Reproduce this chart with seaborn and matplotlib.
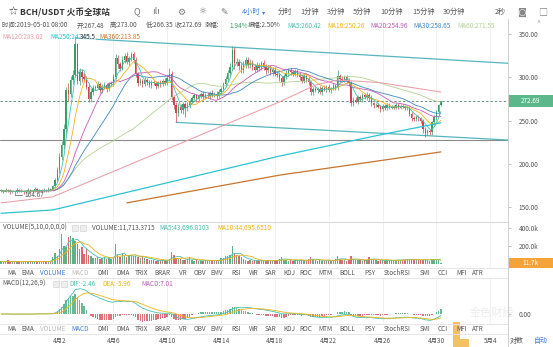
import numpy as np
import pandas as pd
import matplotlib
matplotlib.use("Agg")
import matplotlib.pyplot as plt
import matplotlib.transforms as mtrans
from matplotlib.patches import Rectangle, Polygon
from matplotlib.lines import Line2D
import seaborn as sns

sns.set_theme(style="white")
plt.rcParams["font.family"] = ["Noto Sans CJK SC", "DejaVu Sans"]
plt.rcParams["axes.unicode_minus"] = False

# ---------------- BCH/USDT 4h candles (from 2019-03-28 16:00) ----------------
close = [
    169, 168, 170, 169, 167, 168, 167, 170, 169, 168, 167, 169, 170, 168, 169, 171, 170, 168, 169, 170, 169, 171, 170,
    174, 181, 193, 208, 222, 240, 285, 281, 297, 303, 338,
    296, 306, 300, 298, 289, 275, 283, 288,
    288, 292, 285, 289, 291, 286, 292,
    293, 300, 322, 315, 310, 320, 325, 318, 322, 327,
    320, 304, 293,
    296, 292, 297, 294, 291, 295, 293, 290, 294, 292, 296, 293, 299, 304,
    277, 268, 259, 266, 262, 269, 264, 268, 272,
    276, 279, 275, 278, 281, 277, 280, 278, 282, 279, 281, 278, 283,
    286, 292, 298, 305, 312, 331, 316,
    318, 313, 308, 315, 320, 314, 317, 312, 309, 314, 311, 316, 312, 308, 311, 306, 309, 304,
    303, 299, 294, 301, 305, 308, 306, 304, 307, 303, 300, 296, 302, 298, 294,
    283, 286,
    285, 287, 283, 288, 286, 289, 285, 287, 290, 288,
    301, 298, 297, 300, 296, 293,
    270, 274, 272, 277, 275, 279, 277, 280,
    276, 270, 267.5,
    268, 266, 263, 267, 264, 268, 265, 266, 265, 268.3,
    265, 267, 266, 264, 265, 258, 253, 252, 254, 252.6,
    250, 240, 236, 238, 236.5,
    248, 254, 259.93, 267.48, 272.69,
]
upper_wick = [
    1.5, 1, 2, 1, 1.5, 1, 1, 2, 1, 1.5, 1, 1, 2, 1, 1, 2, 1, 1, 1.5, 2, 1, 2, 1.5,
    2, 3, 4, 5, 5, 6, 4, 8, 5, 6, 7.5,
    2, 5, 4, 5, 3, 4, 5, 3,
    3, 4, 3, 3, 4, 2, 3,
    3, 4, 5, 4, 3, 5, 3, 4, 3, 2,
    2, 3, 2,
    3, 2, 3, 2, 3, 2, 2, 3, 2, 3, 2, 3, 4, 7,
    3, 3, 3, 4, 3, 3, 3, 3, 3,
    2, 3, 2, 3, 2, 3, 2, 3, 2, 3, 2, 3, 3,
    3, 3, 4, 4, 4, 5, 4,
    4, 3, 3, 4, 3, 3, 4, 3, 3, 4, 3, 3, 4, 3, 3, 3, 3, 3,
    3, 3, 3, 3, 4, 3, 3, 3, 3, 3, 3, 3, 3, 3, 3,
    2, 3,
    3, 2, 3, 2, 3, 2, 3, 2, 3, 2,
    8, 3, 3, 3, 3, 3,
    3, 3, 3, 3, 3, 3, 3, 3,
    2, 3, 2,
    2, 2, 2, 2, 2, 2, 2, 2, 2, 2,
    2, 2, 2, 2, 2, 2, 2, 2, 2, 2,
    2, 2, 3, 2, 2,
    2, 2, 2, 2, 0.31,
]
lower_wick = [
    1.5, 2, 1, 1.5, 2, 1, 2.33, 1, 1.5, 1, 2, 1, 1, 1.5, 1, 1, 2, 1, 1, 1.5, 1, 1, 1.5,
    1, 1, 2, 3, 4, 5, 6, 8, 4, 5, 3,
    4, 5, 6, 4, 3, 4, 3, 4,
    3, 2, 3, 3, 2, 3, 2,
    2, 3, 2, 4, 3, 2, 4, 3, 4, 3,
    3, 4, 3,
    2, 3, 2, 3, 2, 3, 2, 3, 2, 3, 2, 2, 2, 3,
    3, 5, 11, 4, 3, 4, 10, 3, 3,
    2, 2, 3, 2, 2, 3, 2, 2, 3, 2, 2, 3, 2,
    2, 2, 3, 3, 3, 4, 6,
    3, 4, 3, 3, 4, 3, 3, 4, 3, 3, 4, 3, 3, 4, 3, 3, 4, 3,
    3, 3, 4, 3, 3, 3, 3, 3, 3, 3, 3, 3, 3, 3, 3,
    4, 3,
    2, 3, 2, 3, 2, 3, 2, 3, 2, 3,
    3, 3, 3, 3, 3, 3,
    3, 3, 2, 3, 2, 3, 2, 3,
    3, 3, 3,
    2, 2, 3, 2, 2, 2, 2, 2, 2, 2,
    2, 2, 2, 2, 2, 3, 3, 3, 2, 3,
    3, 4, 5, 3, 3,
    3, 3, 3, 3, 1.13,
]
# volume in thousands
volume_k = [
    28, 22, 30, 44, 25, 20, 26, 31, 24, 22, 27, 33, 25, 21, 28, 24, 30, 26, 22, 29, 35, 31, 38,
    79, 122, 90, 170, 331, 205, 187, 295, 313, 288, 259,
    223, 170, 187, 115, 170, 97, 85, 70,
    62, 75, 55, 68, 80, 60, 72,
    58, 70, 223, 97, 80, 108, 90, 75, 95, 100,
    85, 92, 78,
    65, 88, 70, 55, 45, 40, 50, 35, 42, 30, 48, 38, 45, 60,
    133, 95, 70, 55, 60, 50, 45, 52, 79,
    40, 35, 42, 30, 38, 33, 45, 36, 40, 32, 38, 44, 50,
    62, 70, 90, 85, 95, 198, 115,
    97, 85, 79, 60, 45, 38, 50, 32, 40, 35, 28, 42, 36, 30, 45, 38, 33, 40,
    48, 55, 79, 50, 45, 38, 42, 35, 40, 48, 36, 44, 40, 38, 52,
    79, 55,
    40, 35, 42, 30, 38, 33, 45, 36, 40, 55,
    86, 60, 45, 40, 38, 42,
    86, 55, 45, 40, 42, 38, 45, 40,
    80, 60, 50,
    42, 38, 45, 40, 36, 42, 38, 44, 40, 46,
    48, 42, 50, 45, 52, 58, 53, 47, 44, 42,
    42, 48, 55, 45, 38.472458,
    55, 52, 60, 39.77068, 11.7133715,
]

# long moving averages (candle index, value)
ma120_idx = [0, 23, 124, 140, 150, 169, 196]
ma120_val = [155, 162, 271.5, 291, 297, 293.8, 283.02]
ma250_idx = [0, 23, 124, 168, 196]
ma250_val = [143, 146.8, 209, 233, 247.45]
ma360_idx = [56, 124, 196]
ma360_val = [155, 187, 213.85]

# drawn objects: channel lines and a horizontal support line
channel_upper_x = [33, 225.9]
channel_upper_y = [345.4, 316.2]
channel_lower_x = [78, 225.9]
channel_lower_y = [248, 227.6]
support_level = 227.6

# 24h statistics shown in the info row
change_pct = "1.94%"
amplitude_pct = "2.50%"

tick_dates = ["2019-04-02", "2019-04-06", "2019-04-10", "2019-04-14", "2019-04-18",
              "2019-04-22", "2019-04-26", "2019-04-30", "2019-05-04"]
tick_labels = ["4月2", "4月6", "4月10", "4月14", "4月18", "4月22", "4月26", "4月30", "5月4"]
price_ticks = [150, 200, 250, 300, 350]
volume_ticks = [200, 400]

tabs = ["MA", "EMA", "VOLUME", "MACD", "DMI", "DMA", "TRIX", "BRAR", "VR", "OBV", "EMV", "RSI",
        "WR", "SAR", "KDJ", "ROC", "MTM", "BOLL", "PSY", "StochRSI", "SMI", "CCI", "MFI", "ATR"]
tab_x = [12, 27.5, 53, 80, 103, 123, 141, 162, 183, 200, 217, 236, 254, 271, 289, 306, 325,
         347, 370, 397, 425, 443, 462, 478]
periods = ["分时", "1分钟", "3分钟", "5分钟", "10分钟", "15分钟", "30分钟"]
period_x = [278, 300, 327, 353, 380, 412, 443]

# ---------------- derived series ----------------
W, H = 553, 347
UP, DOWN = "#3a9e6a", "#d0424d"
C5, C10, C20, C30, C60 = "#45bfae", "#f0b316", "#c35bb0", "#3f88c0", "#b2d392"
C120, C250, C360 = "#eb9ea8", "#2cc3d3", "#c8742c"
GREY = "#555555"
FS = 4.6

n = len(close)
idx = np.arange(n)
t0 = pd.Timestamp("2019-03-28 16:00")
c = np.array(close, dtype=float)
o = np.concatenate([[c[0]], c[:-1]])
hi = np.maximum(o, c) + np.array(upper_wick)
lo = np.minimum(o, c) - np.array(lower_wick)
up = c >= o
cols = np.where(up, UP, DOWN)

s = pd.Series(c)
ma = {k: s.rolling(k, min_periods=1).mean().to_numpy() for k in (5, 10, 20, 30, 60)}
v = pd.Series(volume_k, dtype=float)
vma5 = v.rolling(5, min_periods=1).mean().to_numpy()
vma10 = v.rolling(10, min_periods=1).mean().to_numpy()
dif = (s.ewm(span=12, adjust=False).mean() - s.ewm(span=26, adjust=False).mean()).to_numpy()
dea = pd.Series(dif).ewm(span=9, adjust=False).mean().to_numpy()
hist = 2 * (dif - dea)

tick_pos = ((pd.to_datetime(tick_dates) - t0) / pd.Timedelta("4h")).to_numpy()
XMIN, XMAX = -0.5, 225.9

# ---------------- figure layout ----------------
fig = plt.figure(figsize=(W / 100, H / 100), dpi=100)
fig.patch.set_facecolor("white")


def rect(x0, y0, x1, y1):
    return [x0 / W, 1 - y1 / H, (x1 - x0) / W, (y1 - y0) / H]


def ftext(x, y, txt, **kw):
    kw.setdefault("fontsize", FS)
    kw.setdefault("color", GREY)
    kw.setdefault("va", "center")
    kw.setdefault("ha", "left")
    fig.text(x / W, 1 - y / H, txt, **kw)


def hline(y, x0=0, x1=W, color="#dddddd", lw=0.6):
    fig.add_artist(Line2D([x0 / W, x1 / W], [1 - y / H, 1 - y / H], transform=fig.transFigure,
                          color=color, lw=lw))


ax_p = fig.add_axes(rect(0, 20, 508, 221))
ax_v = fig.add_axes(rect(0, 222, 508, 267))
ax_m = fig.add_axes(rect(0, 278, 508, 323))

for ax in (ax_p, ax_v, ax_m):
    ax.set_xlim(XMIN, XMAX)
    ax.set_xticks([])
    for sp in ax.spines.values():
        sp.set_visible(False)
    ax.set_facecolor("white")
    ax.yaxis.tick_right()
    ax.tick_params(axis="y", which="both", right=True, left=False, length=2.5, width=0.5,
                   color="#aaaaaa", labelsize=FS, labelcolor=GREY, pad=5)
    for tp in tick_pos:
        ax.axvline(tp, color="#eeeeee", lw=0.6, zorder=0)

# ---------------- price panel ----------------
ax_p.set_ylim(134.07, 366.17)
ax_p.set_yticks(price_ticks)
ax_p.set_yticklabels([f"{t:.2f}" for t in price_ticks])

ax_p.axhline(support_level, color="#8c8c8c", lw=0.8, zorder=1)
ax_p.axhline(c[-1], color="#6d8f88", lw=0.7, ls=(0, (2.5, 2)), zorder=1)
ax_p.plot(channel_upper_x, channel_upper_y, color="#55b6bf", lw=0.9, zorder=1)
ax_p.plot(channel_lower_x, channel_lower_y, color="#55b6bf", lw=0.9, zorder=1)

ax_p.vlines(idx, lo, hi, colors=cols, lw=0.5, zorder=2)
ax_p.bar(idx, np.maximum(np.abs(c - o), 0.5), bottom=np.minimum(o, c), width=0.62,
         color=cols, linewidth=0, zorder=3)

for k, col in ((60, C60), (30, C30), (20, C20), (10, C10), (5, C5)):
    sns.lineplot(x=idx, y=ma[k], ax=ax_p, color=col, linewidth=0.6, zorder=4)
sns.lineplot(x=ma120_idx, y=ma120_val, ax=ax_p, color=C120, linewidth=0.75, zorder=4)
sns.lineplot(x=ma250_idx, y=ma250_val, ax=ax_p, color=C250, linewidth=0.9, zorder=4)
sns.lineplot(x=ma360_idx, y=ma360_val, ax=ax_p, color=C360, linewidth=0.9, zorder=4)
ax_p.set_xlabel("")
ax_p.set_ylabel("")
ax_p.set_xlim(XMIN, XMAX)

# extreme markers
i_lo = int(np.argmin(lo))
i_hi = int(np.argmax(hi))
ax_p.plot([i_lo, i_lo + 3.5], [lo[i_lo]] * 2, color=GREY, lw=0.5, zorder=5)
ax_p.text(i_lo + 4.2, lo[i_lo], f"{lo[i_lo]:.2f}", fontsize=FS, color=GREY, va="center", zorder=5)

# last price box
bt = mtrans.blended_transform_factory(ax_p.transAxes, ax_p.transData)
ax_p.add_patch(Rectangle((1.0, c[-1] - 6.9), 45 / 508, 13.9, transform=bt, clip_on=False,
                         facecolor="#5cb88a", edgecolor="none", zorder=6))
ax_p.text(1.0 + 22.5 / 508, c[-1], f"{c[-1]:.2f}", transform=bt, fontsize=FS, color="white",
          ha="center", va="center", zorder=7)

# ---------------- volume panel ----------------
ax_v.set_ylim(-33.3, 466.7)
ax_v.set_yticks(volume_ticks)
ax_v.set_yticklabels([f"{t:.1f}k" for t in volume_ticks])
ax_v.bar(idx, volume_k, width=0.62, color=cols, alpha=0.8, linewidth=0, zorder=2)
sns.lineplot(x=idx, y=vma5, ax=ax_v, color=C5, linewidth=0.6, zorder=3)
sns.lineplot(x=idx, y=vma10, ax=ax_v, color=C10, linewidth=0.6, zorder=3)
ax_v.set_xlabel("")
ax_v.set_ylabel("")
ax_v.set_xlim(XMIN, XMAX)
bv = mtrans.blended_transform_factory(ax_v.transAxes, ax_v.transData)
ax_v.add_patch(Rectangle((1.0, volume_k[-1] - 55.5), 45 / 508, 111, transform=bv, clip_on=False,
                         facecolor="#f5a43a", edgecolor="none", zorder=6))
ax_v.text(1.0 + 22.5 / 508, volume_k[-1], f"{volume_k[-1]:.1f}k", transform=bv, fontsize=FS,
          color="white", ha="center", va="center", zorder=7)

# ---------------- MACD panel ----------------
M = float(np.max(dif))
R = M / 0.56
ax_m.set_ylim(-0.2 * R, 0.8 * R)
ax_m.set_yticks([0])
ax_m.set_yticklabels(["0.00"])
ax_m.bar(idx, hist, width=0.62, color=np.where(hist >= 0, "#4fae7f", "#d65a66"), alpha=0.85,
         linewidth=0, zorder=2)
sns.lineplot(x=idx, y=dif, ax=ax_m, color=C5, linewidth=0.6, zorder=3)
sns.lineplot(x=idx, y=dea, ax=ax_m, color=C10, linewidth=0.6, zorder=3)
ax_m.set_xlabel("")
ax_m.set_ylabel("")
ax_m.set_xlim(XMIN, XMAX)

# ---------------- frame lines ----------------
hline(221.8, 0, 508, "#cfcfcf")
hline(267.5, 0, 508, "#e2e2e2")
hline(278.2, 0, 508, "#e2e2e2")
hline(323.5, 0, 508, "#e2e2e2")
hline(334.2, 0, 508, "#e2e2e2")
fig.add_artist(Line2D([508 / W, 508 / W], [0, 1 - 19 / H], transform=fig.transFigure,
                      color="#d0d0d0", lw=0.7))

# ---------------- header ----------------
ftext(9, 12, "☆", fontsize=6.5, color="#444")
ftext(20, 12, "BCH/USDT 火币全球站", fontsize=6.2, color="#333", fontweight="bold")
for xx, g in ((133, "Q"), (152, "ılı"), (177, "⚙"), (198, "☼"), (220, "✎")):
    ftext(xx, 12, g, fontsize=6.5, color="#777")
ftext(242, 12, "4小时", fontsize=5.2, color="#3b7ddd")
ftext(262, 12, "▾", fontsize=4.5, color="#3b7ddd")
for xx, p in zip(period_x, periods):
    ftext(xx, 12, p, fontsize=5.2, color=GREY)
ftext(495, 12, "2秒", fontsize=5.2, color=GREY)
ftext(517, 12, "◙", fontsize=6.5, color="#888")
ftext(538, 12, "□", fontsize=6.5, color="#888")
ftext(537, 23, "^", fontsize=5, color="#999")

row2 = [
    (2, "时间:2019-05-01 08:00", GREY),
    (77, f"开:{o[-1]:.2f}", GREY),
    (110, f"高:{hi[-1]:.2f}", GREY),
    (146, f"低:{lo[-1]:.2f}", GREY),
    (175, f"收:{c[-1]:.2f}", GREY),
    (205, "涨幅:", GREY),
    (229, change_pct, UP),
    (248, f"振幅:{amplitude_pct}", GREY),
    (287, f"MA5:{ma[5][-1]:.2f}", C5),
    (327, f"MA10:{ma[10][-1]:.2f}", C10),
    (370, f"MA20:{ma[20][-1]:.2f}", C20),
    (413, f"MA30:{ma[30][-1]:.2f}", C30),
    (457, f"MA60:{ma[60][-1]:.2f}", C60),
]
for xx, txt, col in row2:
    ftext(xx, 25.5, txt, color=col)
ftext(2, 37, f"MA120:{ma120_val[-1]:.2f}", color=C120)
ftext(50, 37, f"MA250:{ma250_val[-1]:.2f}", color=C250)
ftext(99, 37, f"MA360:{ma360_val[-1]:.2f}", color=C360)
# highest price marker sits on the MA row
ftext(80, 37, f"{hi[i_hi]:.1f}", color="#333", zorder=10,
      bbox=dict(boxstyle="square,pad=0.05", fc="white", ec="none", alpha=0.6))


def small_boxes(x, y):
    for dx in (0, 8):
        fig.add_artist(Rectangle(((x + dx) / W, 1 - (y + 3) / H), 6 / W, 6 / H,
                                 transform=fig.transFigure, facecolor="#eeeeee",
                                 edgecolor="#cccccc", lw=0.4))


ftext(3, 228, "VOLUME(5,10,0,0,0,0)")
small_boxes(72, 228)
ftext(92, 228, f"VOLUME:{volume_k[-1] * 1000:,.4f}")
ftext(159, 228, f"MA5:{vma5[-1] * 1000:,.4f}", color=C5)
ftext(217, 228, f"MA10:{vma10[-1] * 1000:,.4f}", color=C10)

ftext(2, 284, "MACD(12,26,9)")
small_boxes(53, 284)
ftext(69, 284, f"DIF:{dif[-1]:.2f}", color=C5)
ftext(102, 284, f"DEA:{dea[-1]:.2f}", color=C10)
ftext(141, 284, f"MACD:{hist[-1]:.2f}", color="#c05ab8")

for xx, name in zip(tab_x, tabs):
    c1 = "#3b7ddd" if name == "VOLUME" else ("#bbbbbb" if name == "MACD" else GREY)
    c2 = "#3b7ddd" if name == "MACD" else ("#bbbbbb" if name == "VOLUME" else GREY)
    ftext(xx, 273, name, ha="center", color=c1)
    ftext(xx, 328.8, name, ha="center", color=c2)

bx = mtrans.blended_transform_factory(ax_m.transData, fig.transFigure)
for tp, lab in zip(tick_pos, tick_labels):
    ax_m.text(tp, 1 - 341 / H, lab, transform=bx, fontsize=FS, color=GREY, ha="center",
              va="center", clip_on=False)
ftext(517, 341, "对数", ha="center", fontsize=5)
ftext(541, 341, "自动", ha="center", fontsize=5, color="#3b7ddd")

# watermark
fig.add_artist(Polygon([(453 / W, 1 - 322 / H), (460 / W, 1 - 322 / H), (460 / W, 1 - 339 / H),
                        (469 / W, 1 - 339 / H), (469 / W, 1 - 347 / H), (453 / W, 1 - 347 / H)],
                       closed=True, transform=fig.transFigure, facecolor="#f3b54a",
                       edgecolor="none", alpha=0.85))
ftext(470, 313, "金色财经", fontsize=8, color="#999999", alpha=0.18)

fig.savefig("out.png", dpi=100, facecolor="white")
